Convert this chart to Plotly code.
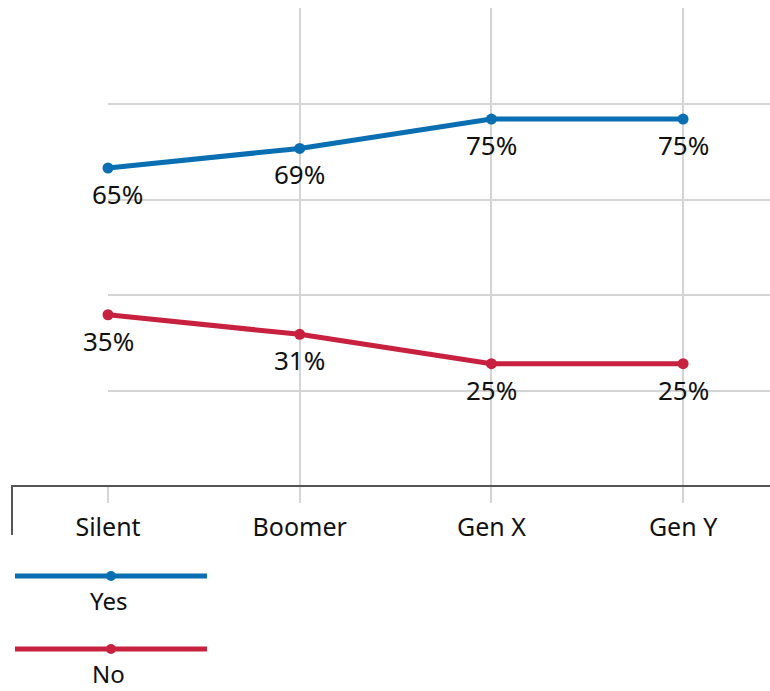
import plotly.graph_objects as go

# Survey responses by generation (percent)
generations = ["Silent", "Boomer", "Gen X", "Gen Y"]
series_names = ["Yes", "No"]
yes_values = [65, 69, 75, 75]
no_values = [35, 31, 25, 25]

colors = {"Yes": "#0a6fb2", "No": "#c8213f"}
grid_color = "#d4d4d4"
axis_color = "#555555"
text_color = "#111111"
FONT = "Noto Sans"

# Canvas and plot-area geometry (pixels)
W, H = 770, 691
L, R, T, B = 108, 770, 8, 486
Y_TOP = 97.7          # value at the top edge of the plot area
GRID_STEP = 19.5      # spacing of the horizontal grid
X_END = (R - L) / 191.7


def px(x):
    return (x - L) / (R - L)


def py(y):
    return (B - y) / (B - T)


fig = go.Figure()

values_by_series = {"Yes": yes_values, "No": no_values}
for name in series_names:
    fig.add_trace(go.Scatter(
        x=generations,
        y=values_by_series[name],
        mode="lines+markers",
        name=name,
        line=dict(color=colors[name], width=5),
        marker=dict(color=colors[name], size=11),
        cliponaxis=False,
        showlegend=False,
        hoverinfo="skip",
    ))

# Value labels under each point
label_nudge = {("Yes", "Silent"): 9}
annotations = []
for name in series_names:
    for g, v in zip(generations, values_by_series[name]):
        annotations.append(dict(
            x=g, y=v, xref="x", yref="y",
            text=f"{v}%", showarrow=False,
            xanchor="center", yanchor="middle",
            yshift=-26, xshift=label_nudge.get((name, g), 0),
            font=dict(family=FONT, size=26, color=text_color),
        ))

# Hand-drawn legend: line sample with a centre dot, name underneath
shapes = []
legend_rows = {"Yes": 576, "No": 649}
for name in series_names:
    ly = legend_rows[name]
    shapes.append(dict(
        type="line", xref="paper", yref="paper",
        x0=px(15), x1=px(207), y0=py(ly), y1=py(ly),
        line=dict(color=colors[name], width=5),
    ))
    shapes.append(dict(
        type="circle", xref="paper", yref="paper",
        x0=px(106), x1=px(116), y0=py(ly + 5), y1=py(ly - 5),
        fillcolor=colors[name], line=dict(width=0),
    ))
    annotations.append(dict(
        x=px(108), y=py(ly + 24), xref="paper", yref="paper",
        text=name, showarrow=False, xanchor="center", yanchor="middle",
        font=dict(family=FONT, size=24, color=text_color),
    ))

# Baseline with a short left tick
shapes.append(dict(
    type="path", xref="paper", yref="paper",
    path=f"M {px(12)},{py(535)} L {px(12)},{py(486)} L {px(R)},{py(486)}",
    line=dict(color=axis_color, width=2),
))

fig.update_layout(
    width=W, height=H,
    margin=dict(l=L, r=W - R, t=T, b=H - B, pad=0),
    paper_bgcolor="white", plot_bgcolor="white",
    font=dict(family=FONT, size=25, color=text_color),
    shapes=shapes,
    annotations=annotations,
    xaxis=dict(
        type="category",
        range=[0, X_END],
        showgrid=True, gridcolor=grid_color, gridwidth=1.5,
        ticks="outside", ticklen=16, tickcolor=grid_color, tickwidth=1.5,
        ticklabelstandoff=3,
        showline=False, zeroline=False,
        tickfont=dict(family=FONT, size=25, color=text_color),
        fixedrange=True,
    ),
    yaxis=dict(
        range=[0, Y_TOP],
        tickvals=[GRID_STEP * k for k in range(1, 6)],
        showticklabels=False,
        showgrid=True, gridcolor=grid_color, gridwidth=1.5,
        zeroline=False, showline=False,
        fixedrange=True,
    ),
)

fig.write_html("out.html")
